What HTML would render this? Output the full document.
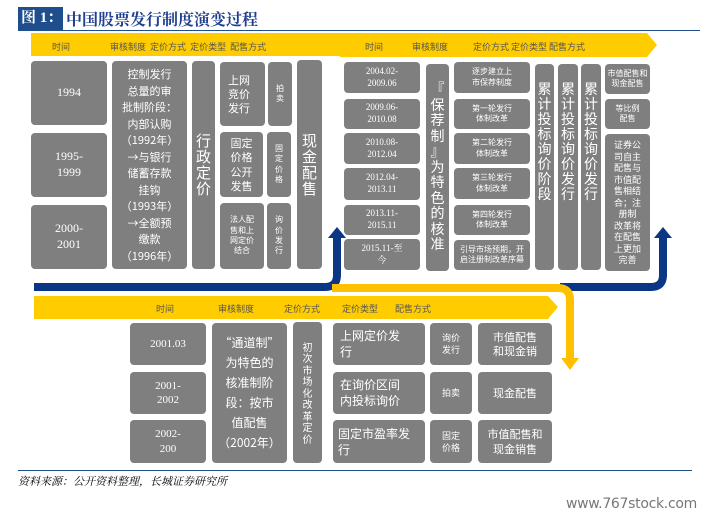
<!DOCTYPE html>
<html><head><meta charset="utf-8"><style>
*{margin:0;padding:0;box-sizing:border-box}
body{width:709px;height:516px;background:#fff;position:relative;overflow:hidden;font-family:"Liberation Serif","Noto Serif CJK SC","Noto Sans CJK SC",serif}
.b{position:absolute;background:#7f7f7f;color:#fff;border-radius:4px;display:flex;align-items:center;justify-content:center;text-align:center;line-height:1.3}
.t{position:absolute;font-size:9px;color:#555;white-space:nowrap;font-family:"Noto Sans CJK SC",sans-serif}
.s{font-family:"Noto Sans CJK SC",sans-serif}
</style></head><body>
<div style="position:absolute;left:18px;top:7px;width:45px;height:23px;background:#1f4e8c;color:#fff;font-weight:bold;font-size:15px;line-height:23px;padding-left:3px">图 1：</div>
<div style="position:absolute;left:66px;top:7px;font-size:16px;font-weight:bold;color:#1f3f8f;line-height:23px;font-family:'Noto Serif CJK SC',serif">中国股票发行制度演变过程</div>
<div style="position:absolute;left:18px;top:30px;width:682px;height:1px;background:#1f4e8c"></div>

<svg style="position:absolute;left:0;top:0" width="709" height="516">
<polygon points="31,33 345,33 345,56 31,56" fill="#ffcc00"/>
<polygon points="340,33 647,33 657,45 647,57 340,57" fill="#ffcc00"/>
<polygon points="34,296 548,296 558,307 548,319 34,319" fill="#ffcc00"/>
<path d="M34,287 H325 Q337,287 337,275 V236" stroke="#0b3585" stroke-width="8" fill="none"/>
<polygon points="328,238 346,238 337,227" fill="#0b3585"/>
<path d="M560,287 H651 Q663,287 663,275 V236" stroke="#0b3585" stroke-width="8" fill="none"/>
<polygon points="654,238 672,238 663,227" fill="#0b3585"/>
<path d="M332,288 H558 Q570,288 570,300 V360" stroke="#ffc000" stroke-width="8" fill="none"/>
<polygon points="561,358 579,358 570,370" fill="#ffc000"/>
</svg>

<div class="t" style="left:52px;top:40px">时间</div>
<div class="t" style="left:110px;top:40px">审核制度&nbsp; 定价方式 &nbsp;定价类型 &nbsp;配售方式</div>
<div class="t" style="left:365px;top:40px">时间</div>
<div class="t" style="left:412px;top:40px">审核制度</div>
<div class="t" style="left:473px;top:40px">定价方式 定价类型 配售方式</div>
<div class="t" style="left:156px;top:302px">时间</div>
<div class="t" style="left:218px;top:302px">审核制度</div>
<div class="t" style="left:284px;top:302px">定价方式</div>
<div class="t" style="left:342px;top:302px">定价类型</div>
<div class="t" style="left:395px;top:302px">配售方式</div>

<div class="b" style="left:31px;top:61px;width:76px;height:64px;font-size:12px">1994</div>
<div class="b" style="left:31px;top:133px;width:76px;height:64px;font-size:12px">1995-<br>1999</div>
<div class="b" style="left:31px;top:205px;width:76px;height:64px;font-size:12px">2000-<br>2001</div>
<div class="b s" style="left:112px;top:61px;width:75px;height:208px;font-size:11px;line-height:16.5px">控制发行<br>总量的审<br>批制阶段：<br>内部认购<br>（1992年）<br>→与银行<br>储蓄存款<br>挂钩<br>（1993年）<br>→全额预<br>缴款<br>（1996年）</div>
<div class="b s" style="left:192px;top:61px;width:23px;height:208px;font-size:15px;line-height:16px">行<br>政<br>定<br>价</div>
<div class="b s" style="left:220px;top:62px;width:45px;height:64px;font-size:11px;justify-content:flex-start;padding-left:8px;text-align:left">上网<br>竞价<br>发行</div>
<div class="b s" style="left:268px;top:62px;width:24px;height:64px;font-size:8px">拍<br>卖</div>
<div class="b s" style="left:220px;top:132px;width:43px;height:65px;font-size:11px">固定<br>价格<br>公开<br>发售</div>
<div class="b s" style="left:267px;top:132px;width:24px;height:65px;font-size:8px">固<br>定<br>价<br>格</div>
<div class="b s" style="left:220px;top:203px;width:44px;height:66px;font-size:8px">法人配<br>售和上<br>网定价<br>结合</div>
<div class="b s" style="left:267px;top:203px;width:24px;height:66px;font-size:8px">询<br>价<br>发<br>行</div>
<div class="b s" style="left:297px;top:60px;width:25px;height:209px;font-size:15px;line-height:16px">现<br>金<br>配<br>售</div>

<div class="b" style="left:344px;top:62px;width:76px;height:31px;font-size:9px">2004.02-<br>2009.06</div>
<div class="b" style="left:344px;top:99px;width:76px;height:30px;font-size:9px">2009.06-<br>2010.08</div>
<div class="b" style="left:344px;top:133px;width:76px;height:31px;font-size:9px">2010.08-<br>2012.04</div>
<div class="b" style="left:344px;top:168px;width:76px;height:32px;font-size:9px">2012.04-<br>2013.11</div>
<div class="b" style="left:344px;top:205px;width:76px;height:30px;font-size:9px">2013.11-<br>2015.11</div>
<div class="b" style="left:344px;top:239px;width:76px;height:31px;font-size:9px">2015.11-至<br>今</div>
<div class="b s" style="left:426px;top:64px;width:23px;height:207px;font-size:14px;line-height:15.5px">『<br>保<br>荐<br>制<br>』<br>为<br>特<br>色<br>的<br>核<br>准</div>
<div class="b s" style="left:454px;top:62px;width:76px;height:31px;font-size:8px">逐步建立上<br>市保荐制度</div>
<div class="b s" style="left:454px;top:99px;width:76px;height:30px;font-size:8px">第一轮发行<br>体制改革</div>
<div class="b s" style="left:454px;top:133px;width:76px;height:31px;font-size:8px">第二轮发行<br>体制改革</div>
<div class="b s" style="left:454px;top:168px;width:76px;height:31px;font-size:8px">第三轮发行<br>体制改革</div>
<div class="b s" style="left:454px;top:205px;width:76px;height:30px;font-size:8px">第四轮发行<br>体制改革</div>
<div class="b s" style="left:454px;top:240px;width:76px;height:30px;font-size:8px;white-space:nowrap">引导市场预期，开<br>启注册制改革序幕</div>
<div class="b s" style="left:535px;top:64px;width:19px;height:206px;font-size:14px;line-height:15px;align-items:flex-start;padding-top:18px">累<br>计<br>投<br>标<br>询<br>价<br>阶<br>段</div>
<div class="b s" style="left:558px;top:64px;width:20px;height:206px;font-size:14px;line-height:15px;align-items:flex-start;padding-top:18px">累<br>计<br>投<br>标<br>询<br>价<br>发<br>行</div>
<div class="b s" style="left:581px;top:64px;width:20px;height:206px;font-size:14px;line-height:15px;align-items:flex-start;padding-top:18px">累<br>计<br>投<br>标<br>询<br>价<br>发<br>行</div>
<div class="b s" style="left:605px;top:64px;width:45px;height:30px;font-size:8px;white-space:nowrap">市值配售和<br>现金配售</div>
<div class="b s" style="left:605px;top:99px;width:45px;height:30px;font-size:8px">等比例<br>配售</div>
<div class="b s" style="left:605px;top:134px;width:45px;height:137px;font-size:9px;line-height:11.5px">证券公<br>司自主<br>配售与<br>市值配<br>售相结<br>合；注<br>册制<br>改革将<br>在配售<br>上更加<br>完善</div>

<div class="b" style="left:130px;top:323px;width:76px;height:42px;font-size:11px">2001.03</div>
<div class="b" style="left:130px;top:372px;width:76px;height:42px;font-size:11px">2001-<br>2002</div>
<div class="b" style="left:130px;top:420px;width:76px;height:43px;font-size:11px">2002-<br>200</div>
<div class="b s" style="left:212px;top:323px;width:75px;height:140px;font-size:12px;line-height:20px">“通道制”<br>为特色的<br>核准制阶<br>段：按市<br>值配售<br>（2002年）</div>
<div class="b s" style="left:293px;top:322px;width:29px;height:141px;font-size:10px;line-height:11.5px">初<br>次<br>市<br>场<br>化<br>改<br>革<br>定<br>价</div>
<div class="b s" style="left:333px;top:323px;width:92px;height:42px;font-size:12px;justify-content:flex-start;text-align:left;padding-left:7px">上网定价发<br>行</div>
<div class="b s" style="left:333px;top:372px;width:92px;height:42px;font-size:12px;justify-content:flex-start;text-align:left;padding-left:7px">在询价区间<br>内投标询价</div>
<div class="b s" style="left:333px;top:420px;width:92px;height:43px;font-size:12px;justify-content:flex-start;text-align:left;padding-left:5px">固定市盈率发<br>行</div>
<div class="b s" style="left:430px;top:323px;width:42px;height:42px;font-size:9px">询价<br>发行</div>
<div class="b s" style="left:430px;top:372px;width:42px;height:42px;font-size:9px">拍卖</div>
<div class="b s" style="left:430px;top:420px;width:42px;height:43px;font-size:9px">固定<br>价格</div>
<div class="b s" style="left:478px;top:323px;width:74px;height:42px;font-size:11px">市值配售<br>和现金销</div>
<div class="b s" style="left:478px;top:372px;width:74px;height:42px;font-size:11px">现金配售</div>
<div class="b s" style="left:478px;top:420px;width:74px;height:43px;font-size:11px">市值配售和<br>现金销售</div>

<div style="position:absolute;left:18px;top:470px;width:674px;height:1px;background:#1f4e8c"></div>
<div style="position:absolute;left:18px;top:473px;font-size:11px;font-style:italic;color:#000;font-family:'Noto Serif CJK SC',serif">资料来源：公开资料整理，长城证券研究所</div>
<div style="position:absolute;left:566px;top:496px;font-size:14px;color:#777;font-family:'DejaVu Sans',sans-serif;letter-spacing:-0.3px">www.767stock.com</div>
</body></html>
